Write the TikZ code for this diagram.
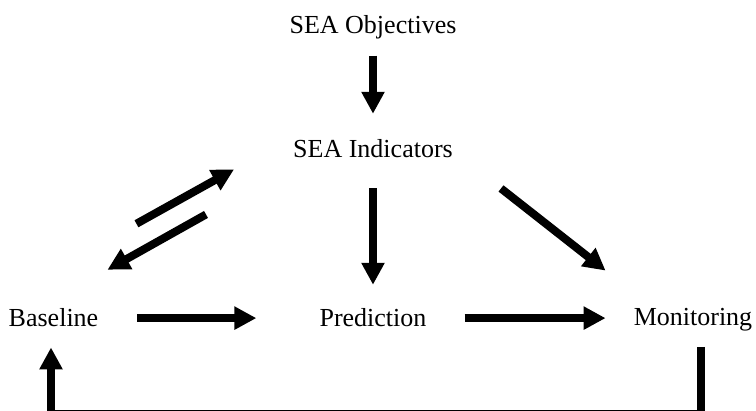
\documentclass[tikz,border=0pt]{standalone}
\usepackage{fontspec}
\setmainfont{Liberation Serif}
\usetikzlibrary{arrows.meta}
\tikzset{
  stage/.style={inner sep=0pt, anchor=base, font=\fontsize{26}{30}\selectfont},
  arr/.style={line width=8pt, -{Triangle[length=22pt,width=22pt]}}
}
\begin{document}
\begin{tikzpicture}[x=1pt,y=-1pt]
  \useasboundingbox (0,0) rectangle (756,411);
  \clip (0,0) rectangle (756,411);
  \node[stage] (obj) at (373,34) {SEA Objectives};
  \node[stage] (ind) at (373,158) {SEA Indicators};
  \node[stage] (base) at (53.5,327) {Baseline};
  \node[stage] (pred) at (373,327) {Prediction};
  \node[stage] (mon) at (693,326) {Monitoring};
  \draw[arr, shorten <=16pt, shorten >=26pt] (obj) -- (ind);
  \draw[arr, shorten <=30pt, shorten >=24pt] (ind) -- (pred);
  \draw[arr] ([shift={(48,30)}]ind.south east)
    -- ([shift={(-28,-38)}]mon.north west);
  \draw[arr] ([shift={(38,-85)}]base.north east)
    -- ([shift={(-59,11)}]ind.south west);
  \draw[arr] ([shift={(-87,56)}]ind.south west)
    -- ([shift={(9,-39)}]base.north east);
  \draw[arr, shorten <=39pt, shorten >=63pt] (base.east) -- (base.east -| pred.west);
  \draw[arr, shorten <=38pt, shorten >=28pt] (pred.east) -- (pred.east -| mon.west);
  % back to the baseline
  \draw[arr, line join=miter, shorten >=20pt] ([shift={(7.5,15)}]mon.south)
    -- ++(0,67) -| ([xshift=-2.5pt]base.south);
\end{tikzpicture}
\end{document}
